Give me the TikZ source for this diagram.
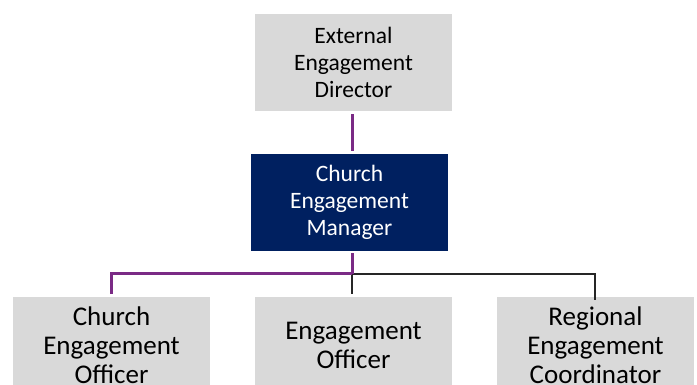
\documentclass[tikz,border=0pt]{standalone}
\usepackage{fontspec}
\setmainfont{Carlito}
\definecolor{boxgray}{HTML}{D9D9D9}
\definecolor{navy}{HTML}{002060}
\definecolor{purp}{HTML}{7A2A85}
\tikzset{
  role/.style={rectangle, fill=boxgray, minimum width=197pt, minimum height=97pt, inner sep=0pt, align=center, text=black},
  topfont/.style={font=\fontsize{23.5}{26.7}\selectfont},
  botfont/.style={font=\fontsize{27}{29}\selectfont},
  mgrbox/.style={role, fill=navy, text=white},
  purpline/.style={draw=purp, line width=3pt},
  blackline/.style={draw=black!85, line width=1.3pt}
}
\begin{document}
\begin{tikzpicture}[x=1pt,y=-1pt]
\clip (0,0) rectangle (697,385);
\fill[white] (0,0) rectangle (697,385);
\node[role, topfont] (top) at (353.5,62.5) {External\\Engagement\\Director};
\node[mgrbox, topfont] (mgr) at (349.5,202.5) {Church\\Engagement\\Manager};
\node[role, botfont] (l) at (111.5,345.5) {Church\\Engagement\\Officer};
\node[role, botfont] (m) at (353.5,345.5) {Engagement\\Officer};
\node[role, botfont] (r) at (595.5,345.5) {Regional\\Engagement\\Coordinator};
\coordinate (sp) at (352,0);
\coordinate (bus) at (352,274);
% black branches
\draw[blackline] (bus) -| ([yshift=-3pt]r.north -| 595,0);
\draw[blackline, shorten >=3pt] (bus) -- (bus |- m.north);
% purple
\draw[purpline, shorten <=3pt, shorten >=3pt] (sp |- top.south) -- (sp |- mgr.north);
\draw[purpline, shorten <=2pt] (sp |- mgr.south) -- (bus);
\draw[purpline, line join=miter, shorten >=3pt] (bus) -| (111,0 |- l.north);
\end{tikzpicture}
\end{document}
